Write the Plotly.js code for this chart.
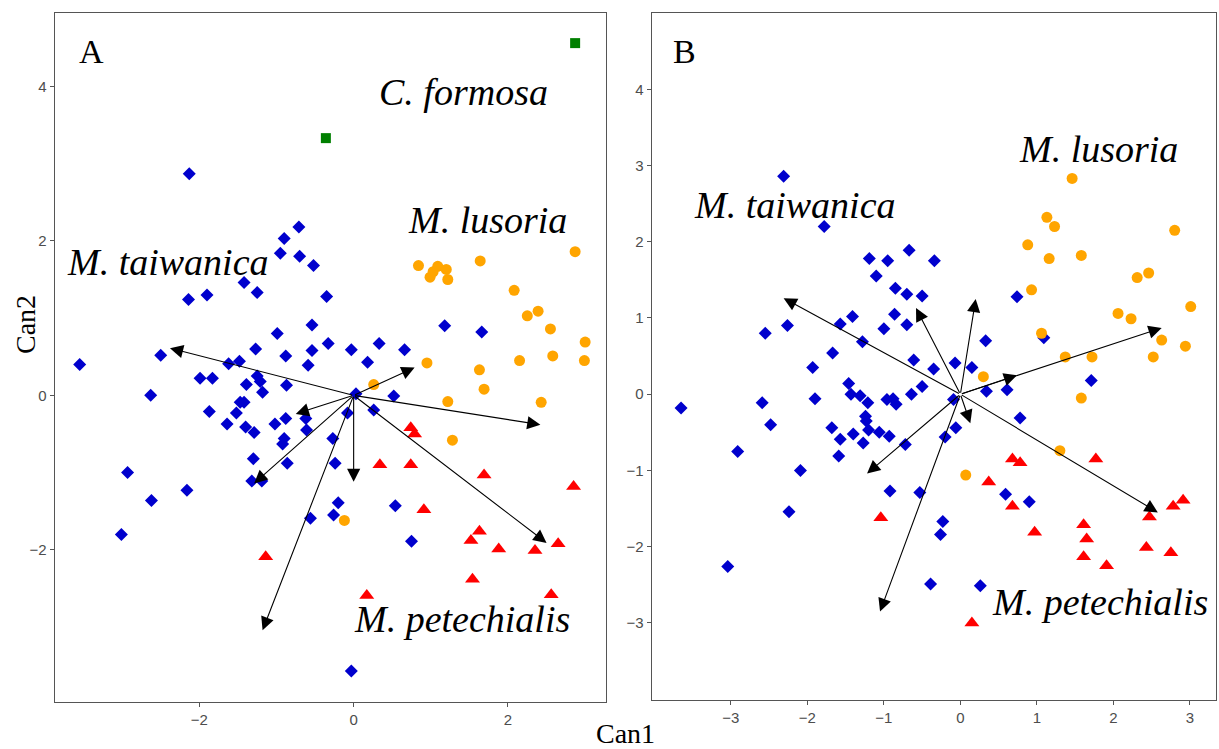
<!DOCTYPE html>
<html>
<head>
<meta charset="utf-8">
<script src="https://cdn.plot.ly/plotly-3.0.1.min.js"></script>
<style>html,body{margin:0;padding:0;background:#fff}#chart{width:1219px;height:749px}</style>
</head>
<body>
<div id="chart"></div>
<script>
// ---------- Panel A data ----------
var A_taiwanica_x = [-3.55,-2.13,-0.71,-0.90,-0.95,-0.70,-0.52,-1.42,-1.25,-2.14,-1.90,-0.35,-0.54,-0.99,-1.27,-0.54,-0.33,-0.88,-0.59,-2.50,-1.62,-1.48,-1.99,-1.83,-1.25,-2.63,-1.39,-1.21,-0.87,-1.18,-1.47,-1.42,-1.87,-1.52,-1.64,-1.40,-1.29,-1.02,-0.88,-0.62,-0.61,-0.90,-0.92,-0.86,-1.30,-1.32,-1.19,-2.93,-2.62,-2.16,-3.01,-0.56,-0.27,-0.24,-0.20,-0.26,0.03,0.52,0.26,-0.08,0.54,0.75,-0.03,-0.03,0.33,0.66,0.18,1.18,1.66];
var A_taiwanica_y = [0.40,2.87,2.18,2.03,1.84,1.80,1.68,1.46,1.33,1.24,1.30,1.28,0.91,0.80,0.60,0.58,0.67,0.51,0.39,0.52,0.41,0.44,0.22,0.22,0.25,0.00,0.14,0.18,0.13,0.04,-0.09,-0.09,-0.21,-0.23,-0.37,-0.41,-0.48,-0.37,-0.30,-0.30,-0.45,-0.56,-0.63,-0.88,-0.82,-1.11,-1.11,-1.00,-1.36,-1.23,-1.80,-1.59,-0.56,-0.88,-1.39,-1.55,0.02,-0.01,-0.19,-0.23,-1.43,-1.89,-3.57,0.59,0.67,0.59,0.43,0.90,0.82];
var A_lusoria_x = [0.84,0.99,1.09,1.03,1.20,1.22,1.64,2.87,2.08,2.25,2.39,2.55,3.00,2.99,2.58,2.15,0.95,1.63,1.69,0.26,1.22,2.43,1.28,-0.12];
var A_lusoria_y = [1.68,1.53,1.67,1.60,1.63,1.50,1.74,1.86,1.36,1.03,1.09,0.86,0.69,0.45,0.51,0.45,0.42,0.33,0.08,0.14,-0.08,-0.09,-0.58,-1.62];
var A_petechialis_x = [0.74,0.79,0.34,0.74,1.69,2.85,0.91,1.63,1.52,1.88,2.35,2.65,1.54,0.17,2.56,-1.14];
var A_petechialis_y = [-0.42,-0.50,-0.90,-0.90,-1.03,-1.18,-1.48,-1.76,-1.88,-1.99,-2.01,-1.92,-2.38,-2.59,-2.58,-2.09];
var A_formosa_x = [2.87,-0.36];
var A_formosa_y = [4.56,3.33];
var A_arrow_x = [-2.38,-0.75,-1.29,-1.18,0.00,0.79,2.42,2.50];
var A_arrow_y = [0.61,-0.24,-1.14,-3.04,-1.12,0.36,-0.38,-1.91];

// ---------- Panel B data ----------
var B_taiwanica_x = [-2.31,-1.78,-1.19,-0.95,-0.67,-0.34,-1.10,-0.85,-0.70,-0.50,-2.55,-2.26,-1.57,-1.41,-0.86,-1.00,-0.70,-1.28,-1.67,-1.93,-0.61,-0.35,0.74,0.33,1.09,-0.07,0.15,1.71,-0.50,0.34,0.61,-0.09,0.78,-0.06,-0.20,0.59,0.90,-0.23,-0.26,-0.39,0.26,-1.46,-1.43,-1.31,-1.21,-1.90,-2.59,-3.65,-2.48,-0.64,-0.96,-0.88,-0.84,-1.24,-1.23,-1.68,-1.20,-1.40,-1.06,-0.93,-1.57,-1.27,-0.72,-1.59,-2.91,-2.09,-0.92,-0.53,-2.24,-3.04];
var B_taiwanica_y = [2.86,2.20,1.78,1.75,1.89,1.75,1.55,1.39,1.31,1.29,0.80,0.90,0.92,1.02,1.05,0.86,0.91,0.69,0.54,0.35,0.45,0.33,1.28,0.70,0.74,0.41,0.35,0.18,0.10,0.04,0.06,-0.07,-0.31,-0.44,-0.56,-1.31,-1.41,-1.67,-1.84,-2.49,-2.51,0.14,0.00,-0.02,-0.11,-0.06,-0.11,-0.18,-0.40,0.00,-0.07,-0.06,-0.13,-0.29,-0.35,-0.44,-0.47,-0.52,-0.50,-0.55,-0.59,-0.64,-0.66,-0.81,-0.75,-1.00,-1.27,-1.29,-1.54,-2.26];
var B_lusoria_x = [1.46,1.13,1.23,2.80,0.88,1.16,1.58,2.31,2.46,0.93,3.01,2.06,2.23,1.06,2.63,2.94,1.37,1.72,2.52,0.30,1.58,1.30,0.07];
var B_lusoria_y = [2.83,2.32,2.20,2.15,1.96,1.78,1.82,1.53,1.59,1.37,1.15,1.06,0.99,0.80,0.71,0.63,0.49,0.49,0.49,0.23,-0.05,-0.74,-1.06];
var B_petechialis_x = [0.68,0.78,1.77,0.37,0.68,0.97,1.61,1.65,1.61,1.91,2.43,2.75,2.47,2.78,2.91,0.15,-1.04];
var B_petechialis_y = [-0.85,-0.90,-0.85,-1.15,-1.47,-1.81,-1.71,-1.90,-2.13,-2.25,-2.01,-2.08,-1.61,-1.47,-1.39,-3.00,-1.62];
var B_arrow_x = [-2.31,-0.58,0.20,2.63,0.74,0.13,2.58,-1.22,-1.05];
var B_arrow_y = [1.26,1.13,1.25,0.87,0.25,-0.38,-1.55,-1.04,-2.85];

// ---------- tick labels ----------
var A_xticks = [-2,0,2];
var A_yticks = [-2,0,2,4];
var B_xticks = [-3,-2,-1,0,1,2,3];
var B_yticks = [-3,-2,-1,0,1,2,3,4];

var BLUE = '#0000cd', ORANGE = '#ffa500', RED = '#ff0000', GREEN = '#007f00';

function pts(x, y, xa, ya, sym, col, size) {
  return {x: x, y: y, xaxis: xa, yaxis: ya, type: 'scatter', mode: 'markers',
    marker: {symbol: sym, color: col, size: size, line: {width: 0}}, hoverinfo: 'skip', showlegend: false};
}

var traces = [
  pts(A_taiwanica_x, A_taiwanica_y, 'x', 'y', 'diamond', BLUE, 10),
  pts(A_lusoria_x, A_lusoria_y, 'x', 'y', 'circle', ORANGE, 11),
  pts(A_petechialis_x, A_petechialis_y, 'x', 'y', 'triangle-up', RED, 13),
  pts(A_formosa_x, A_formosa_y, 'x', 'y', 'square', GREEN, 10),
  pts(B_taiwanica_x, B_taiwanica_y, 'x2', 'y2', 'diamond', BLUE, 10),
  pts(B_lusoria_x, B_lusoria_y, 'x2', 'y2', 'circle', ORANGE, 11),
  pts(B_petechialis_x, B_petechialis_y, 'x2', 'y2', 'triangle-up', RED, 13)
];

var annotations = [];
function arrows(xs, ys, xr, yr) {
  for (var i = 0; i < xs.length; i++) {
    annotations.push({x: xs[i], y: ys[i], ax: 0, ay: 0, xref: xr, yref: yr, axref: xr, ayref: yr,
      text: '', showarrow: true, arrowhead: 2, arrowsize: 2.4, arrowwidth: 1.1, arrowcolor: '#000', standoff: 0});
  }
}
arrows(A_arrow_x, A_arrow_y, 'x', 'y');
arrows(B_arrow_x, B_arrow_y, 'x2', 'y2');

var SERIF = 'Liberation Serif, Times New Roman, serif';
function label(t, x, y, xr, yr, size, italic) {
  annotations.push({x: x, y: y, xref: xr, yref: yr, text: italic ? '<i>' + t + '</i>' : t, showarrow: false,
    font: {family: SERIF, size: size, color: '#000'}, xanchor: 'center', yanchor: 'middle'});
}
label('A', -3.4, 4.45, 'x', 'y', 34, false);
label('C. formosa', 1.42, 3.93, 'x', 'y', 38, true);
label('M. lusoria', 1.74, 2.27, 'x', 'y', 38, true);
label('M. taiwanica', -2.4, 1.73, 'x', 'y', 38, true);
label('M. petechialis', 1.4, -2.90, 'x', 'y', 38, true);
label('B', -3.6, 4.49, 'x2', 'y2', 34, false);
label('M. taiwanica', -2.16, 2.48, 'x2', 'y2', 38, true);
label('M. lusoria', 1.81, 3.21, 'x2', 'y2', 38, true);
label('M. petechialis', 1.83, -2.73, 'x2', 'y2', 38, true);
annotations.push({x: 625/1219, y: 0, xref: 'paper', yref: 'paper', text: 'Can1', showarrow: false,
  font: {family: SERIF, size: 28, color: '#000'}, xanchor: 'center', yanchor: 'bottom', yshift: -2});
annotations.push({x: 25/1219, y: 1 - 325/749, xref: 'paper', yref: 'paper', text: 'Can2', showarrow: false, textangle: -90,
  font: {family: SERIF, size: 28, color: '#000'}, xanchor: 'center', yanchor: 'middle'});

function axis(range, ticks, domain, anchor) {
  return {range: range, domain: domain, anchor: anchor, tickmode: 'array', tickvals: ticks,
    showgrid: false, zeroline: false, showline: true, mirror: true, linecolor: '#555', linewidth: 1.3,
    ticks: 'outside', ticklen: 4, tickwidth: 1, tickcolor: '#555',
    tickfont: {family: 'Liberation Sans, Arial, sans-serif', size: 15, color: '#4d4d4d'}, fixedrange: true};
}
var layout = {
  width: 1219, height: 749, margin: {l: 0, r: 0, t: 0, b: 0},
  paper_bgcolor: '#fff', plot_bgcolor: '#fff', showlegend: false,
  xaxis: axis([-3.87, 3.27], A_xticks, [55/1219, 606/1219], 'y'),
  yaxis: axis([-3.97, 4.95], A_yticks, [1 - 702/749, 1 - 13/749], 'x'),
  xaxis2: axis([-4.03, 3.34], B_xticks, [652/1219, 1216/1219], 'y2'),
  yaxis2: axis([-4.01, 5.0], B_yticks, [1 - 700/749, 1 - 13/749], 'x2'),
  annotations: annotations
};
Plotly.newPlot('chart', traces, layout, {staticPlot: true, displayModeBar: false});
</script>
</body>
</html>
